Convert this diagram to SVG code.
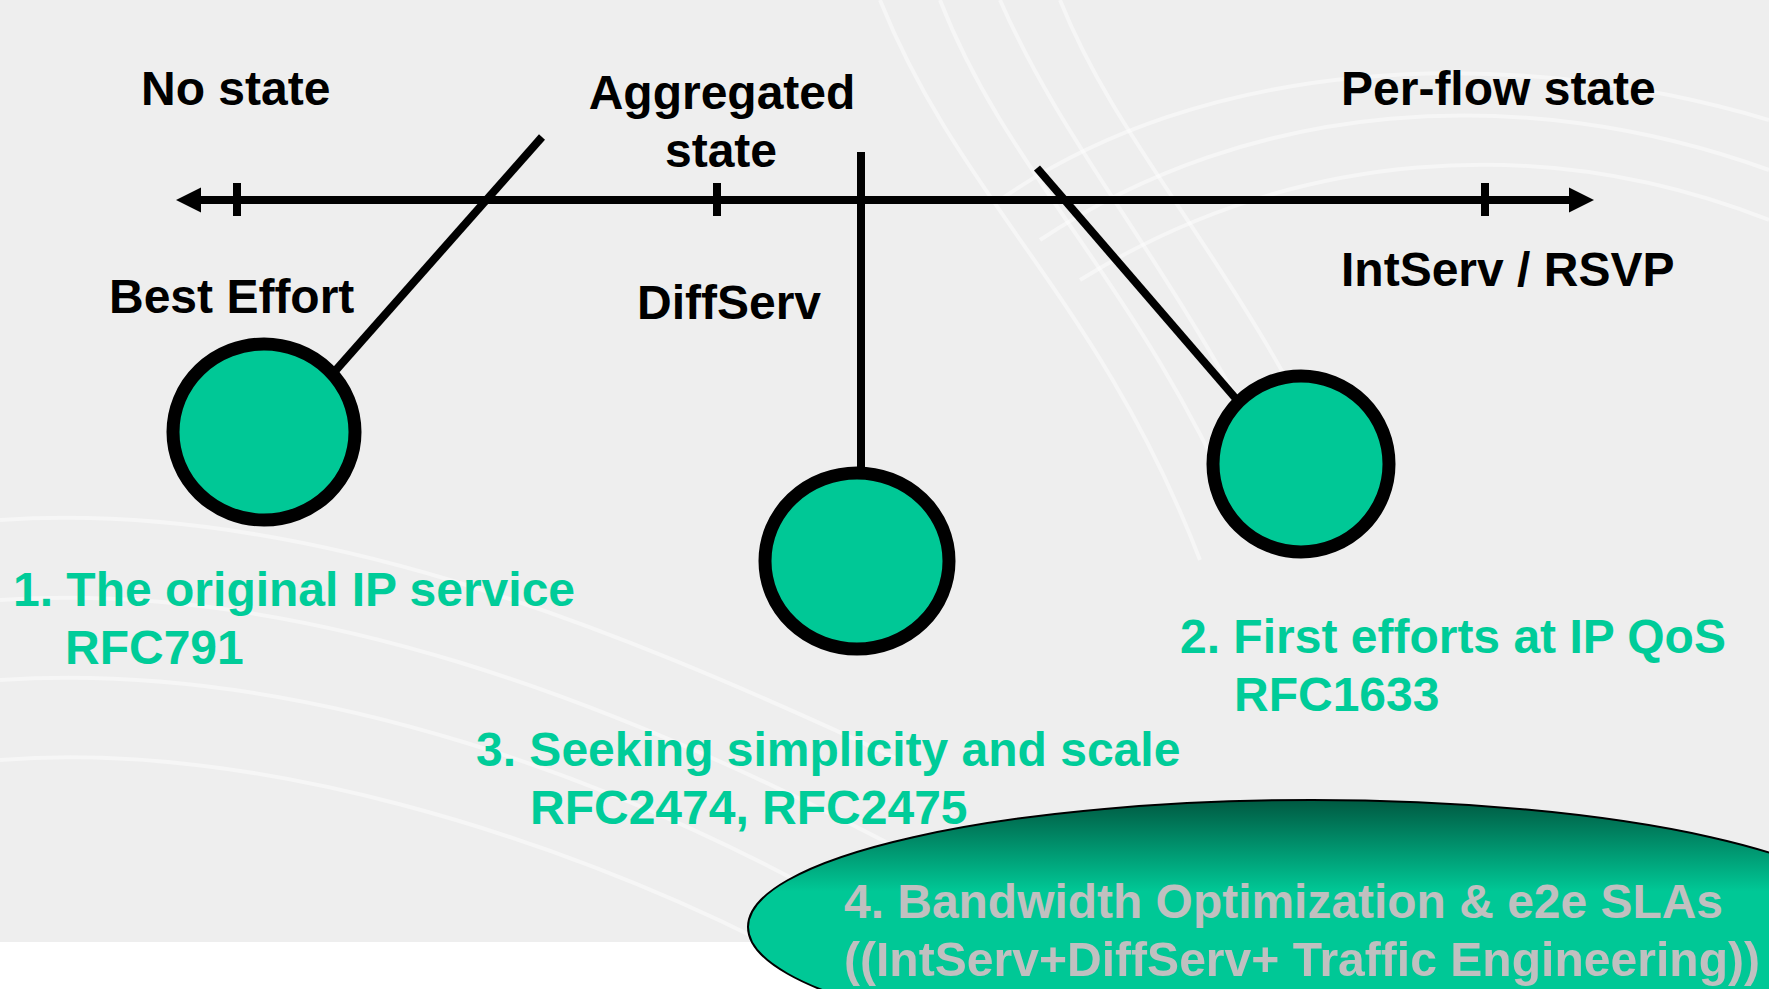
<svg xmlns="http://www.w3.org/2000/svg" width="1769" height="989" viewBox="0 0 1769 989">
<defs>
<linearGradient id="g4" x1="0" y1="0" x2="0" y2="1">
<stop offset="0" stop-color="#005A42"/>
<stop offset="0.36" stop-color="#00C896"/>
<stop offset="1" stop-color="#00C896"/>
</linearGradient>
<marker id="arr" viewBox="0 0 10 10" refX="6" refY="5" markerWidth="3.2" markerHeight="3.2" orient="auto-start-reverse" markerUnits="strokeWidth">
<path d="M0,0 L10,5 L0,10 z" fill="#000"/>
</marker>
<style>
.lbl{font-family:"Liberation Sans",Arial,sans-serif;font-weight:bold;font-size:48px;fill:#000}
.grn{font-family:"Liberation Sans",Arial,sans-serif;font-weight:bold;font-size:48px;fill:#00CC99}
.gry{font-family:"Liberation Sans",Arial,sans-serif;font-weight:bold;font-size:48px;fill:#C0C0C0}
.ln{stroke:#000;stroke-width:8;fill:none}
.dot{fill:#00C896;stroke:#000;stroke-width:13}
.sw{fill:none;stroke:#FFFFFF;stroke-width:4;opacity:0.45}
</style>
</defs>
<rect x="0" y="0" width="1769" height="989" fill="#FFFFFF"/>
<rect x="0" y="0" width="1769" height="942" fill="#EEEEEE"/>
<g id="swirls">
<path class="sw" d="M880,0 C960,200 1100,300 1200,560"/>
<path class="sw" d="M940,0 C1010,180 1140,280 1250,540"/>
<path class="sw" d="M1000,0 C1070,160 1180,270 1300,520"/>
<path class="sw" d="M1060,0 C1120,150 1230,250 1350,500"/>
<path class="sw" d="M1000,200 C1200,60 1500,40 1769,120"/>
<path class="sw" d="M1040,240 C1250,100 1520,80 1769,170"/>
<path class="sw" d="M1080,280 C1290,150 1540,130 1769,220"/>
<path class="sw" d="M0,520 C300,500 600,620 900,760"/>
<path class="sw" d="M0,600 C300,580 620,700 920,860"/>
<path class="sw" d="M0,680 C300,660 640,780 900,940"/>
<path class="sw" d="M0,760 C260,740 560,840 760,940"/>
</g>
<g id="axis">
<line class="ln" x1="186" y1="200" x2="1584" y2="200" marker-start="url(#arr)" marker-end="url(#arr)"/>
<line class="ln" x1="237" y1="183" x2="237" y2="216"/>
<line class="ln" x1="717" y1="183" x2="717" y2="216"/>
<line class="ln" x1="1485" y1="183" x2="1485" y2="216"/>
</g>
<g id="connectors">
<line class="ln" x1="542" y1="137" x2="336" y2="370"/>
<line class="ln" x1="861" y1="152" x2="861" y2="468"/>
<line class="ln" x1="1037" y1="168" x2="1237" y2="400"/>
</g>
<g id="labels">
<text class="lbl" x="141" y="105">No state</text>
<text class="lbl" x="722" y="109" text-anchor="middle">Aggregated</text>
<text class="lbl" x="721" y="167" text-anchor="middle">state</text>
<text class="lbl" x="1341" y="105">Per-flow state</text>
<text class="lbl" x="109" y="313">Best Effort</text>
<text class="lbl" x="637" y="319">DiffServ</text>
<text class="lbl" x="1341" y="286">IntServ / RSVP</text>
</g>
<g id="node1">
<ellipse class="dot" cx="264" cy="432" rx="91" ry="88"/>
<text class="grn" x="13" y="606">1. The original IP service</text>
<text class="grn" x="65" y="664">RFC791</text>
</g>
<g id="node3">
<ellipse class="dot" cx="857" cy="561" rx="92" ry="88"/>
<text class="grn" x="476" y="766">3. Seeking simplicity and scale</text>
<text class="grn" x="530" y="824">RFC2474, RFC2475</text>
</g>
<g id="node2">
<ellipse class="dot" cx="1301" cy="464" rx="88" ry="88"/>
<text class="grn" x="1180" y="653">2. First efforts at IP QoS</text>
<text class="grn" x="1234" y="711">RFC1633</text>
</g>
<g id="node4">
<ellipse cx="1312" cy="927" rx="564" ry="127" fill="url(#g4)" stroke="#000" stroke-width="2"/>
<text class="gry" x="844" y="918" textLength="879" lengthAdjust="spacingAndGlyphs">4. Bandwidth Optimization &amp; e2e SLAs</text>
<text class="gry" x="844" y="976" textLength="916" lengthAdjust="spacingAndGlyphs">((IntServ+DiffServ+ Traffic Engineering))</text>
</g>
</svg>
